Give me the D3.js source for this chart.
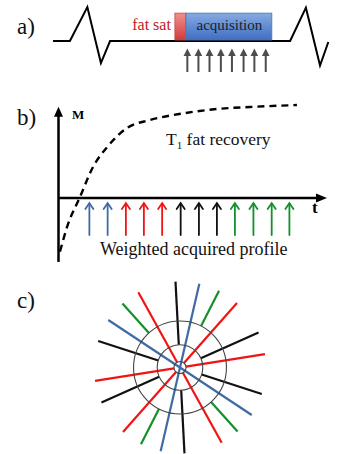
<!DOCTYPE html>
<html>
<head>
<meta charset="utf-8">
<script src="https://cdn.jsdelivr.net/npm/d3@7"></script>
<style>
  html, body { margin: 0; padding: 0; background: #fff; }
</style>
</head>
<body>
<div id="chart"></div>
<script>
// ---- panel a: sequence timing ----
const waveT = [0, 6.1, 12.4, 17.3, 20.6, 85.6, 91.3, 96.4, 99.4];
const waveAmp = [0, 0, 1, -0.65, 0, 0, 0.98, -0.72, -0.03];
const fatSatSpan = [44, 48];
const acqSpan = [48, 79];
const blockHeight = 0.82;
const readoutT = [48.5, 52.5, 56.5, 60.6, 64.6, 68.8, 72.7, 76.8];

// ---- panel b: T1 fat recovery ----
const curveT = [0.56, 3.17, 8.0, 12.85, 18.06, 25.5, 34.1, 46.4, 59.0, 71.3, 88.8];
const curveM = [-0.57, -0.31, 0.01, 0.33, 0.54, 0.745, 0.83, 0.90, 0.947, 0.968, 0.989];
const profileT = [11.5, 18.3, 25.1, 31.8, 38.6, 45.5, 52.3, 59.0, 65.7, 72.6, 79.4, 86.0];
const profileGroup = ["blue", "blue", "red", "red", "red", "black", "black", "black", "green", "green", "green", "green"];

// ---- panel c: radial k-space ----
const ringRadii = [0.07, 0.265, 0.54];
const spokeAngles = [9, 24, 48.5, 63, 77, 93, 119, 132, 146.5, 162];
const spokeGroup = ["red", "black", "red", "green", "blue", "black", "red", "green", "blue", "black"];
const groupInner = { blue: 0, red: 0.07, black: 0.265, green: 0.54 };

const groupColor = { blue: "#3f6aa3", red: "#f01414", black: "#111", green: "#14902a" };
const serif = "'Liberation Serif', 'Times New Roman', Times, 'DejaVu Serif', serif";

const W = 338, H = 454;
const svg = d3.select("#chart").append("svg")
  .attr("width", W)
  .attr("height", H)
  .attr("font-family", serif)
  .style("font-family", serif);

const defs = svg.append("defs");

const gBlue = defs.append("linearGradient").attr("id", "gBlue")
  .attr("x1", 0).attr("y1", 0).attr("x2", 0).attr("y2", 1);
gBlue.append("stop").attr("offset", "0%").attr("stop-color", "#86aae2");
gBlue.append("stop").attr("offset", "100%").attr("stop-color", "#3f6ec2");

const gRed = defs.append("linearGradient").attr("id", "gRed")
  .attr("x1", 0).attr("y1", 0).attr("x2", 0).attr("y2", 1);
gRed.append("stop").attr("offset", "0%").attr("stop-color", "#f29090");
gRed.append("stop").attr("offset", "100%").attr("stop-color", "#cf3b3b");

// panel labels
[["a)", 33.5], ["b)", 125], ["c)", 308]].forEach(([txt, y]) => {
  svg.append("text")
    .attr("x", 17)
    .attr("y", y)
    .attr("font-size", 23)
    .attr("fill", "#111")
    .text(txt);
});

// =================== a) ===================
const xA = d3.scaleLinear().domain([0, 100]).range([53, 330]);
const yA = d3.scaleLinear().domain([-1, 1]).range([75, 7]);

const wave = waveT.map((t, i) => ({ t, a: waveAmp[i] }));

svg.append("path")
  .datum(wave)
  .attr("fill", "none")
  .attr("stroke", "#000")
  .attr("stroke-width", 2)
  .attr("stroke-linejoin", "miter")
  .attr("d", d3.line().x(d => xA(d.t)).y(d => yA(d.a)));

svg.append("rect")
  .attr("x", xA(fatSatSpan[0]))
  .attr("y", yA(blockHeight))
  .attr("width", xA(fatSatSpan[1]) - xA(fatSatSpan[0]))
  .attr("height", yA(0) - yA(blockHeight) - 1)
  .attr("fill", "url(#gRed)")
  .attr("stroke", "#c24a4a")
  .attr("stroke-width", 0.8);

svg.append("rect")
  .attr("x", xA(acqSpan[0]))
  .attr("y", yA(blockHeight))
  .attr("width", xA(acqSpan[1]) - xA(acqSpan[0]))
  .attr("height", yA(0) - yA(blockHeight) - 1)
  .attr("fill", "url(#gBlue)")
  .attr("stroke", "#4a74b8")
  .attr("stroke-width", 0.8);

svg.append("text")
  .attr("x", xA(fatSatSpan[0]) - 4)
  .attr("y", 30)
  .attr("text-anchor", "end")
  .attr("font-size", 16)
  .attr("fill", "#c8141e")
  .text("fat sat");

svg.append("text")
  .attr("x", (xA(acqSpan[0]) + xA(acqSpan[1])) / 2 + 0.5)
  .attr("y", 30)
  .attr("text-anchor", "middle")
  .attr("font-size", 15)
  .attr("fill", "#1b1b2b")
  .text("acquisition");

// readout arrows
const arrA = svg.append("g").attr("fill", "#4d4d4d").attr("stroke", "#4d4d4d");
readoutT.forEach(t => {
  const x = xA(t);
  arrA.append("line")
    .attr("x1", x).attr("x2", x)
    .attr("y1", 72).attr("y2", 54)
    .attr("stroke-width", 2);
  arrA.append("path")
    .attr("stroke", "none")
    .attr("d", `M${x},48.5 L${x - 3.8},56 L${x + 3.8},56 Z`);
});

// =================== b) ===================
const xB = d3.scaleLinear().domain([0, 100]).range([58.5, 327]);
const yB = d3.scaleLinear().domain([-1, 1]).range([292, 104]);

const axisG = svg.append("g").attr("stroke", "#000").attr("fill", "#000");

// y axis
axisG.append("line")
  .attr("x1", xB(0)).attr("x2", xB(0))
  .attr("y1", yB(-0.68)).attr("y2", yB(0.92))
  .attr("stroke-width", 2.5);
axisG.append("path")
  .attr("stroke", "none")
  .attr("d", `M${xB(0)},${yB(0.97)} L${xB(0) - 4.5},${yB(0.97) + 10} L${xB(0) + 4.5},${yB(0.97) + 10} Z`);

// x axis
axisG.append("line")
  .attr("x1", xB(0)).attr("x2", xB(97))
  .attr("y1", yB(0)).attr("y2", yB(0))
  .attr("stroke-width", 2.5);
axisG.append("path")
  .attr("stroke", "none")
  .attr("d", `M${xB(100)},${yB(0)} L${xB(100) - 11},${yB(0) - 4.5} L${xB(100) - 11},${yB(0) + 4.5} Z`);

svg.append("text")
  .attr("x", 72).attr("y", 119)
  .attr("font-size", 13)
  .attr("font-weight", "bold")
  .text("M");

svg.append("text")
  .attr("x", 312).attr("y", 213)
  .attr("font-size", 17)
  .attr("font-weight", "bold")
  .text("t");

// recovery curve
const curve = curveT.map((t, i) => ({ t, m: curveM[i] }));
svg.append("path")
  .datum(curve)
  .attr("fill", "none")
  .attr("stroke", "#000")
  .attr("stroke-width", 2.4)
  .attr("stroke-dasharray", "7,5")
  .attr("d", d3.line().curve(d3.curveMonotoneX).x(d => xB(d.t)).y(d => yB(d.m)));

const t1 = svg.append("text")
  .attr("x", 166).attr("y", 145)
  .attr("font-size", 17.5)
  .attr("fill", "#111");
t1.append("tspan").text("T");
t1.append("tspan").attr("font-size", 11).attr("dy", 4).text("1");
t1.append("tspan").attr("dy", -4).text(" fat recovery");

// weighted profile arrows
profileT.forEach((t, i) => {
  const x = xB(t);
  const c = groupColor[profileGroup[i]];
  const g = svg.append("g")
    .attr("stroke", c)
    .attr("stroke-width", 1.8)
    .attr("fill", "none")
    .attr("stroke-linecap", "round");
  g.append("line").attr("x1", x).attr("x2", x).attr("y1", 235).attr("y2", 204);
  g.append("path").attr("d", `M${x - 4},${209} L${x},${203} L${x + 4},${209}`);
});

svg.append("text")
  .attr("x", 100).attr("y", 255)
  .attr("font-size", 18)
  .attr("fill", "#111")
  .text("Weighted acquired profile");

// =================== c) ===================
const cx = 180, cy = 367.5;
const kr = d3.scaleLinear().domain([0, 1]).range([0, 86]);

const cG = svg.append("g").attr("transform", `translate(${cx},${cy})`);

spokeAngles.forEach((ang, i) => {
  const grp = spokeGroup[i];
  const a = ang * Math.PI / 180;
  const r0 = kr(groupInner[grp]), r1 = kr(1);
  [0, Math.PI].forEach(off => {
    const dx = Math.cos(a + off), dy = -Math.sin(a + off);
    cG.append("line")
      .attr("x1", r0 * dx).attr("y1", r0 * dy)
      .attr("x2", r1 * dx).attr("y2", r1 * dy)
      .attr("stroke", groupColor[grp])
      .attr("stroke-width", 2.2);
  });
});

cG.selectAll("circle.ring")
  .data(ringRadii)
  .enter()
  .append("circle")
    .attr("class", "ring")
    .attr("r", d => kr(d))
    .attr("fill", "none")
    .attr("stroke", "#444")
    .attr("stroke-width", 1.1);
</script>
</body>
</html>
